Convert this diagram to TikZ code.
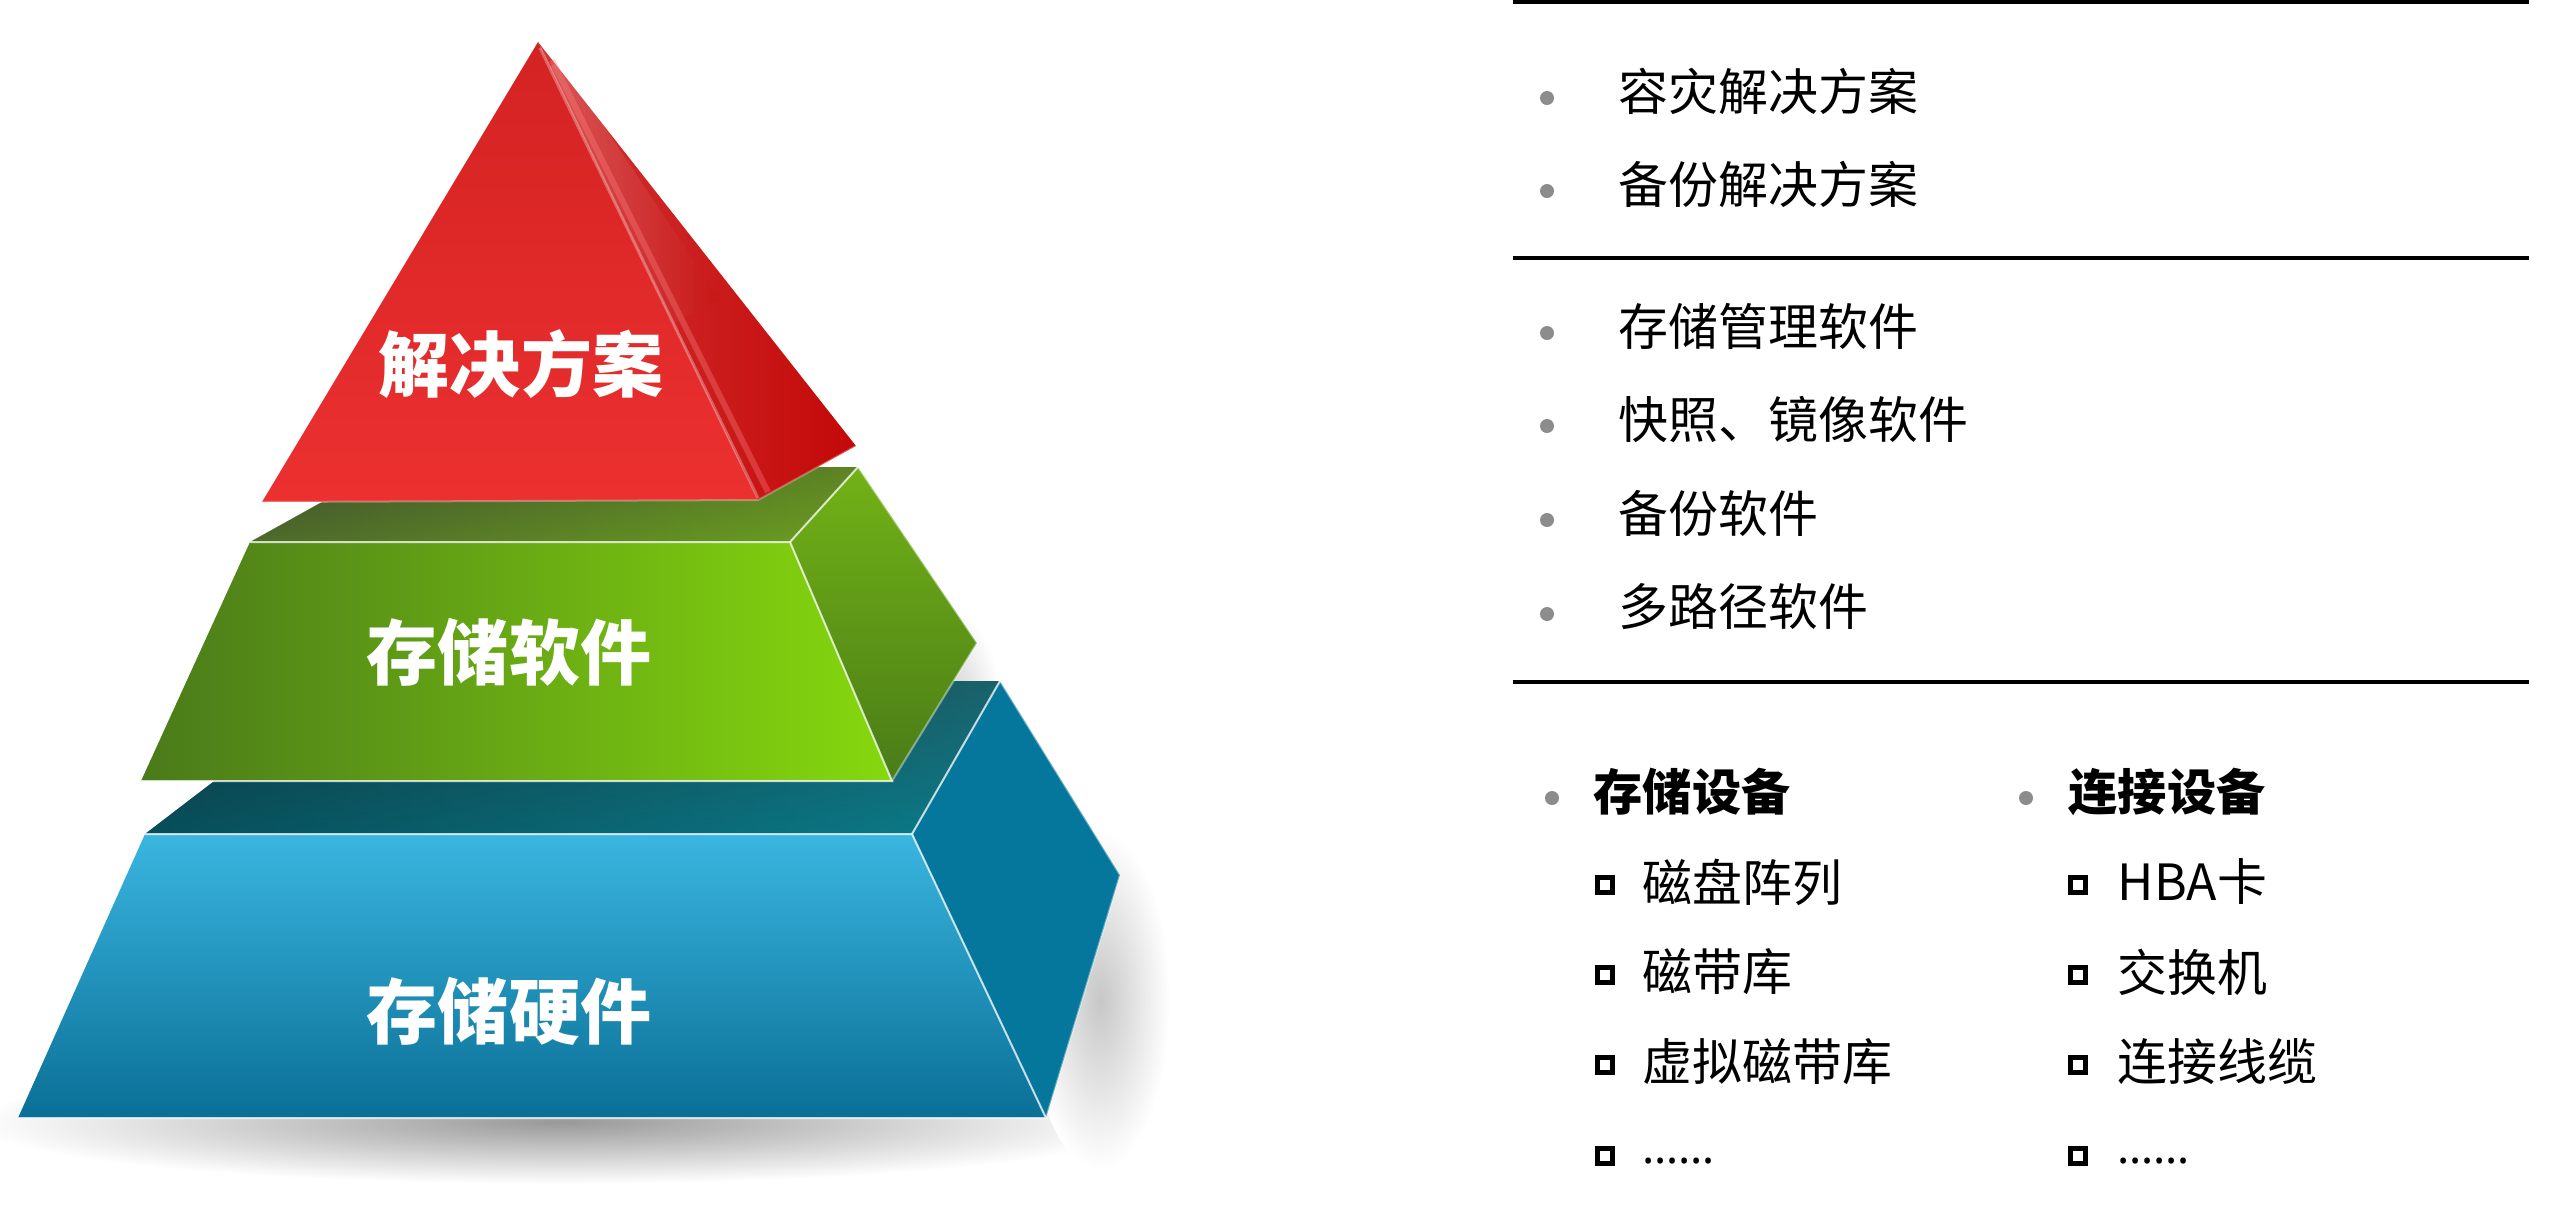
\documentclass[tikz,border=0pt]{standalone}
\usepackage{fontspec}
\setmainfont{Noto Sans CJK SC}
\newfontfamily\ellfont{Noto Sans}
\definecolor{redA}{HTML}{D42222}
\definecolor{redB}{HTML}{EC3030}
\definecolor{redS1}{HTML}{D23434}
\definecolor{redS2}{HTML}{C40808}
\definecolor{grnDark}{HTML}{4A7A1A}
\definecolor{grnMid}{HTML}{62A016}
\definecolor{grnBright}{HTML}{86D80E}
\definecolor{grnSideT}{HTML}{72B216}
\definecolor{grnSideB}{HTML}{4A7C18}
\definecolor{grnTopL}{HTML}{3E4E30}
\definecolor{grnTopR}{HTML}{6CA020}
\definecolor{bluTop}{HTML}{3AB6E0}
\definecolor{bluBot}{HTML}{0A6F96}
\definecolor{bluSide}{HTML}{06779C}
\definecolor{bluLidL}{HTML}{022A34}
\definecolor{bluLidM}{HTML}{04505E}
\definecolor{bluLidR}{HTML}{0C7C8A}
\definecolor{bulletgray}{HTML}{8C8C8C}
\begin{document}
\begin{tikzpicture}[x=0.01cm,y=-0.01cm,
  lbl/.style={text=white, inner sep=0, font=\bfseries\fontsize{20.2pt}{24pt}\selectfont},
  item/.style={anchor=west, inner sep=0, text=black, font=\fontsize{14.2pt}{17pt}\selectfont},
  head/.style={anchor=west, inner sep=0, text=black, font=\bfseries\fontsize{14pt}{17pt}\selectfont},
  ell/.style={anchor=base west, inner sep=0, text=black, font=\ellfont\fontsize{13pt}{16pt}\selectfont},
  dot/.style={circle, fill=bulletgray, inner sep=0, minimum size=0.14cm},
  sq/.style={draw=black, line width=0.05cm, inner sep=0, minimum size=0.15cm},
  sepline/.style={black, line width=0.035cm},
  edge/.style={white, opacity=0.75, line width=0.02cm}]
\useasboundingbox (0,0) rectangle (2560,1208);

% ---------- shadows ----------
\shade[inner color=black!40, outer color=white] (560,1122) ellipse (590 and 62);
\shade[inner color=black!22, outer color=white] (1100,1000) ellipse (70 and 170);
\shade[inner color=black!18, outer color=white] (950,700) ellipse (50 and 90);

% ---------- bottom layer (blue) ----------
\shade[left color=bluLidL, middle color=bluLidM, right color=bluLidR] (145,834) -- (345,681) -- (1000,681) -- (912,834) -- cycle;
\begin{scope}
  \clip (145,834) -- (345,681) -- (1000,681) -- (912,834) -- cycle;
  \shade[top color=black!80, bottom color=bluLidR, opacity=0.45] (140,781) -- (892,781) -- (977,643) -- (1040,643) -- (960,834) -- (140,834) -- cycle;
\end{scope}
\fill[bluSide] (912,834) -- (1000,681) -- (1120,875) -- (1046,1118) -- cycle;
\shade[top color=bluTop, bottom color=bluBot] (145,834) -- (912,834) -- (1046,1118) -- (18,1118) -- cycle;
\draw[edge] (145,834) -- (912,834) -- (1046,1118) -- (18,1118);
\draw[edge] (912,834) -- (1000,681);
\draw[edge, opacity=0.4] (1000,681) -- (1120,875) -- (1046,1118);

% ---------- middle layer (green) ----------
\shade[left color=grnTopL, right color=grnTopR] (250,542) -- (385,467) -- (858,467) -- (790,542) -- cycle;
\begin{scope}
  \clip (250,542) -- (385,467) -- (858,467) -- (790,542) -- cycle;
  \shade[top color=black!80, bottom color=grnTopR, opacity=0.35] (250,500) -- (860,440) -- (860,542) -- (250,542) -- cycle;
\end{scope}
\shade[top color=grnSideT, bottom color=grnSideB] (790,542) -- (858,467) -- (977,643) -- (892,781) -- cycle;
\shade[left color=grnDark, middle color=grnMid, right color=grnBright] (250,542) -- (790,542) -- (892,781) -- (141,781) -- cycle;
\draw[edge] (250,542) -- (790,542) -- (892,781) -- (141,781);
\draw[edge] (790,542) -- (858,467);
\draw[edge, opacity=0.4] (858,467) -- (977,643) -- (892,781);

% ---------- top layer (red) ----------
\shade[left color=redS1, right color=redS2] (538,42) -- (856,446) -- (758,500) -- cycle;
\begin{scope}
  \clip (538,42) -- (856,446) -- (758,500) -- cycle;
  \shade[left color=white, right color=redS2, opacity=0.18] (560,60) -- (720,300) -- (660,330) -- (545,70) -- cycle;
\end{scope}
\shade[top color=redA, bottom color=redB] (538,42) -- (758,500) -- (262,502) -- cycle;
\draw[white, opacity=0.3, line width=0.03cm] (540,48) -- (758,498);
\draw[red!50!white, opacity=0.35, line width=0.06cm] (552,60) -- (768,492);
\draw[white, opacity=0.3, line width=0.02cm] (262,502) -- (758,500) -- (856,446);

% ---------- pyramid labels ----------
\node[lbl] (ltop) at (521,364) {解决方案};
\node[lbl] (lmid) at (509,652) {存储软件};
\node[lbl] (lbot) at (509,1011) {存储硬件};

% ---------- separators ----------
\draw[sepline] (1513,2) -- (2529,2);
\draw[sepline] (1513,258) -- (2529,258);
\draw[sepline] (1513,682) -- (2529,682);

% ---------- section 1 ----------
\node[dot] (b1) at (1547,98) {};
\node[item] (t1) at (1618,91) {容灾解决方案};
\node[dot] (b2) at (1547,191) {};
\node[item] (t2) at (1618,184) {备份解决方案};

% ---------- section 2 ----------
\node[dot] (b3) at (1547,333) {};
\node[item] (t3) at (1618,326) {存储管理软件};
\node[dot] (b4) at (1547,426) {};
\node[item] (t4) at (1618,419) {快照、镜像软件};
\node[dot] (b5) at (1547,520) {};
\node[item] (t5) at (1618,513) {备份软件};
\node[dot] (b6) at (1547,614) {};
\node[item] (t6) at (1618,607) {多路径软件};

% ---------- section 3 ----------
\node[dot] (b7) at (1552,798) {};
\node[head] (h1) at (1593,792) {存储设备};
\node[dot] (b8) at (2026,798) {};
\node[head] (h2) at (2068,792) {连接设备};

\node[sq] (s1) at (1605,885) {};
\node[item] (u1) at (1642,882) {磁盘阵列};
\node[sq] (s2) at (1605,975) {};
\node[item] (u2) at (1642,972) {磁带库};
\node[sq] (s3) at (1605,1065) {};
\node[item] (u3) at (1642,1062) {虚拟磁带库};
\node[sq] (s4) at (1605,1156) {};
\node[ell] (u4) at (1642,1163) {……};

\node[sq] (r1) at (2078,885) {};
\node[item] (v1) at (2117,882) {HBA卡};
\node[sq] (r2) at (2078,975) {};
\node[item] (v2) at (2117,972) {交换机};
\node[sq] (r3) at (2078,1065) {};
\node[item] (v3) at (2117,1062) {连接线缆};
\node[sq] (r4) at (2078,1156) {};
\node[ell] (v4) at (2117,1163) {……};
\end{tikzpicture}
\end{document}
